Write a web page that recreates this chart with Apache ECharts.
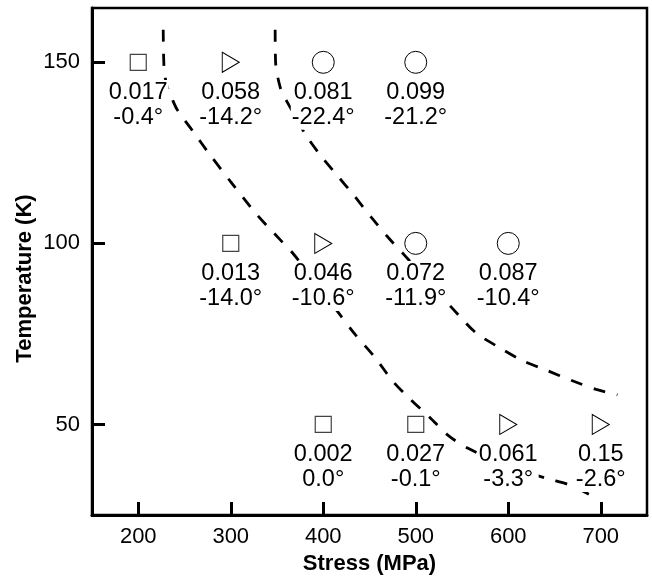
<!DOCTYPE html>
<html>
<head>
<meta charset="utf-8">
<script src="https://cdn.jsdelivr.net/npm/echarts@6/dist/echarts.min.js"></script>
<style>
  html, body { margin: 0; padding: 0; background: #fff; }
  #chart { width: 652px; height: 576px; }
</style>
</head>
<body>
<div id="chart"></div>
<script>
// measured points: [stress (MPa), temperature (K)]
var squarePts = [[200, 150], [300, 100], [400, 50], [500, 50]];
var trianglePts = [[300, 150], [400, 100], [600, 50], [700, 50]];
var circlePts = [[400, 150], [500, 150], [500, 100], [600, 100]];

// two lines of text under each marker, keyed by "x,y"
var pointText = {
    '200,150': ['0.017', '-0.4°'],
    '300,150': ['0.058', '-14.2°'],
    '400,150': ['0.081', '-22.4°'],
    '500,150': ['0.099', '-21.2°'],
    '300,100': ['0.013', '-14.0°'],
    '400,100': ['0.046', '-10.6°'],
    '500,100': ['0.072', '-11.9°'],
    '600,100': ['0.087', '-10.4°'],
    '400,50': ['0.002', '0.0°'],
    '500,50': ['0.027', '-0.1°'],
    '600,50': ['0.061', '-3.3°'],
    '700,50': ['0.15', '-2.6°']
};

// dashed boundary curves
var leftCurve = [[227, 159], [228, 148], [231, 143.6], [236.5, 140], [242, 137], [259, 131], [276, 125],
    [300, 117], [328, 108], [346, 103], [368, 97], [392, 89], [416, 81], [434, 75], [456, 68.5],
    [475, 62], [494, 57], [515, 52], [535, 47], [556, 43.5], [600, 38.5], [643, 35], [665, 33.4], [693, 30]];
var rightCurve = [[348, 159], [348.5, 150], [353.5, 143.1], [360, 139.5], [367.4, 136.2], [381, 130],
    [398, 124], [416, 118.5], [433, 113.3], [452, 107.2], [470, 101.7], [488, 96.7], [517, 88.5],
    [547, 80], [566, 75.1], [590, 71.3], [615, 67.7], [642, 64.9], [668, 62.2], [695, 59.7], [718, 58.2]];

var xTicks = [200, 300, 400, 500, 600, 700];
var yTicks = [50, 100, 150];

var fontFamily = '"Liberation Sans", Arial, Helvetica, sans-serif';

var myChart = echarts.init(document.getElementById('chart'));

// label under the marker, white box so the dashed line goes behind it
function pointLabel(distance) {
    return {
        show: true,
        position: 'bottom',
        distance: distance,
        formatter: function (p) {
            return pointText[p.value[0] + ',' + p.value[1]].join('\n');
        },
        color: '#000',
        fontSize: 23.5,
        lineHeight: 25,
        fontFamily: fontFamily,
        backgroundColor: '#fff',
        padding: [0, 1]
    };
}

function curveSeries(data) {
    return {
        type: 'line',
        data: data,
        smooth: 0.3,
        showSymbol: false,
        silent: true,
        z: 1,
        lineStyle: { color: '#000', width: 2.8, type: [12, 12] }
    };
}

var option = {
    backgroundColor: '#fff',
    animation: false,
    grid: {
        left: 92,
        right: 5,
        top: 8,
        bottom: 61,
        outerBoundsMode: 'none',
        show: true,
        borderColor: '#000',
        borderWidth: 2.5
    },
    xAxis: {
        type: 'value',
        min: 150,
        max: 750,
        name: 'Stress (MPa)',
        nameLocation: 'middle',
        nameGap: 38,
        nameMoveOverlap: false,
        nameTextStyle: { color: '#000', fontSize: 22, fontWeight: 'bold', fontFamily: fontFamily },
        axisLine: { lineStyle: { color: '#000', width: 3 } },
        axisTick: { inside: true, length: 13, customValues: xTicks, lineStyle: { color: '#000', width: 3 } },
        axisLabel: { customValues: xTicks, margin: 11, color: '#000', fontSize: 22, fontFamily: fontFamily },
        splitLine: { show: false }
    },
    yAxis: {
        type: 'value',
        min: 25,
        max: 165,
        name: 'Temperature (K)',
        nameLocation: 'middle',
        nameRotate: 90,
        nameGap: 56,
        nameMoveOverlap: false,
        nameTextStyle: { color: '#000', fontSize: 22, fontWeight: 'bold', fontFamily: fontFamily, padding: [0, 34, 0, 0] },
        axisLine: { lineStyle: { color: '#000', width: 3 } },
        axisTick: { inside: true, length: 13, customValues: yTicks, lineStyle: { color: '#000', width: 3 } },
        axisLabel: { customValues: yTicks, margin: 12, color: '#000', fontSize: 22, fontFamily: fontFamily },
        splitLine: { show: false }
    },
    series: [
        curveSeries(leftCurve),
        curveSeries(rightCurve),
        {
            type: 'scatter',
            data: squarePts,
            symbol: 'rect',
            symbolSize: 16,
            z: 3,
            itemStyle: { color: '#fff', borderColor: '#444', borderWidth: 1.2, opacity: 1 },
            label: pointLabel(9)
        },
        {
            type: 'scatter',
            data: trianglePts,
            symbol: 'path://M0,0 L10,5 L0,10 Z',
            symbolSize: [17, 20],
            z: 3,
            itemStyle: { color: '#fff', borderColor: '#000', borderWidth: 1, opacity: 1 },
            label: pointLabel(7)
        },
        {
            type: 'scatter',
            data: circlePts,
            symbol: 'circle',
            symbolSize: 22,
            z: 3,
            itemStyle: { color: '#fff', borderColor: '#000', borderWidth: 1, opacity: 1 },
            label: pointLabel(6)
        }
    ]
};

myChart.setOption(option);
</script>
</body>
</html>
